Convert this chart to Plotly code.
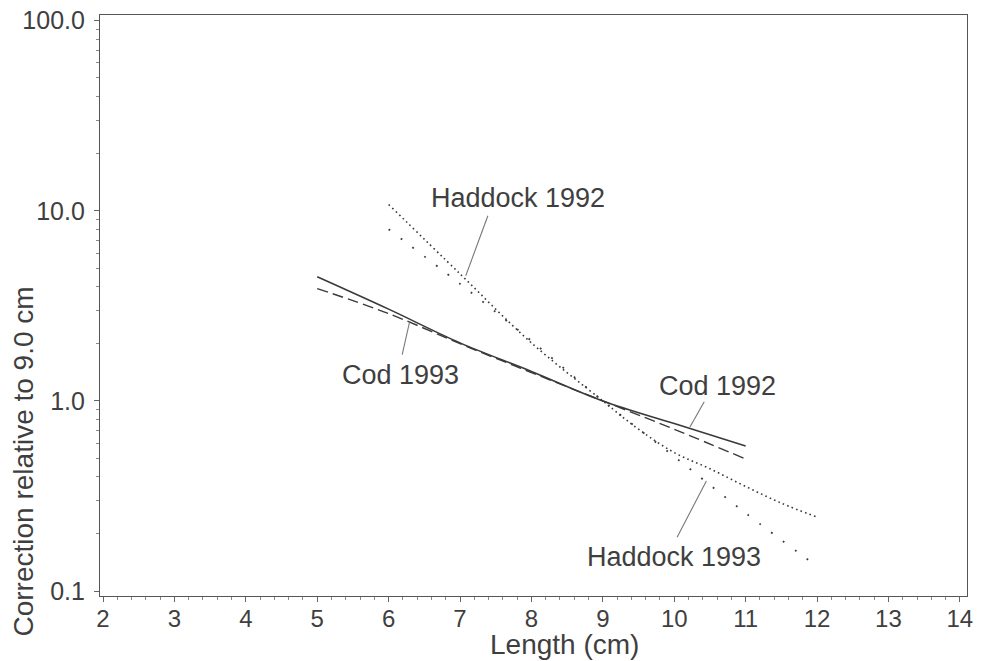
import math
import plotly.graph_objects as go

# ---- data ----
cod92_len = [5, 6, 7, 8, 9, 10, 11]
cod92_val = [4.5, 3.04, 2.02, 1.43, 1.0, 0.76, 0.58]

cod93_len = [5, 6, 7, 8, 9, 10, 11]
cod93_val = [3.9, 2.88, 2.0, 1.41, 1.0, 0.71, 0.495]

had92_len = [6, 7, 8, 9, 9.5, 10, 10.5, 11, 11.5, 12]
had92_val = [10.8, 4.66, 2.02, 1.0, 0.71, 0.535, 0.44, 0.355, 0.29, 0.245]

had93_len = [6, 7, 8, 9, 10, 11, 12]
had93_val = [8.0, 4.13, 2.07, 1.0, 0.51, 0.257, 0.135]

x_ticks = list(range(2, 15))
y_ticks = [0.1, 1, 10, 100]
y_ticktext = ["0.1", "1.0", "10.0", "100.0"]

# labels: text, text position, leader line (from, to)
label_text = ["Haddock 1992", "Cod 1993", "Cod 1992", "Haddock 1993"]
label_x = [7.81, 6.16, 10.61, 10.0]
label_y = [11.7, 1.37, 1.20, 0.151]
leader_x0 = [7.39, 6.19, 10.42, 10.04]
leader_y0 = [9.42, 1.75, 0.99, 0.192]
leader_x1 = [7.08, 6.29, 10.22, 10.45]
leader_y1 = [4.55, 2.57, 0.73, 0.379]

LINE = "#3a3a3a"
TEXT = "#3f3f3f"
FONT = "Liberation Sans, Arial, Helvetica, sans-serif"

# the page body has an 8px margin, so the figure is offset to compensate
W, H = 974, 653
L, R, T, B = 92, 15, 7, 65

fig = go.Figure()

fig.add_trace(go.Scatter(x=cod92_len, y=cod92_val, mode="lines", line_shape="spline",
                         line=dict(color=LINE, width=1.6), name="Cod 1992"))
fig.add_trace(go.Scatter(x=cod93_len, y=cod93_val, mode="lines", line_shape="spline",
                         line=dict(color=LINE, width=1.4, dash="11px,5px"), name="Cod 1993"))
fig.add_trace(go.Scatter(x=had92_len, y=had92_val, mode="lines", line_shape="spline",
                         line=dict(color=LINE, width=1.6, dash="1.6px,3.2px"), name="Haddock 1992"))
fig.add_trace(go.Scatter(x=had93_len, y=had93_val, mode="lines", line_shape="spline",
                         line=dict(color=LINE, width=1.8, dash="1.8px,13px"), name="Haddock 1993"))

# leader lines and labels
for i in range(len(label_text)):
    fig.add_trace(go.Scatter(x=[leader_x0[i], leader_x1[i]], y=[leader_y0[i], leader_y1[i]],
                             mode="lines", line=dict(color="#777777", width=1.1),
                             hoverinfo="skip", showlegend=False))
    fig.add_annotation(x=label_x[i], y=math.log10(label_y[i]),
                       xref="x", yref="y", text=label_text[i], showarrow=False,
                       font=dict(family=FONT, size=27, color=TEXT),
                       xanchor="center", yanchor="middle")

# axis titles positioned as in the reference
fig.add_annotation(x=0.536, y=-0.083, xref="paper", yref="paper", text="Length (cm)",
                   showarrow=False, xanchor="center", yanchor="middle",
                   font=dict(family=FONT, size=28, color=TEXT))
fig.add_annotation(text="Correction relative to 9.0 cm", textangle=-90, showarrow=False,
                   xref="paper", yref="paper", x=-0.088, y=0.231,
                   xanchor="center", yanchor="middle",
                   font=dict(family=FONT, size=28, color=TEXT))

fig.update_layout(
    width=W, height=H,
    margin=dict(l=L, r=R, t=T, b=B, autoexpand=False),
    paper_bgcolor="white", plot_bgcolor="white",
    showlegend=False,
    font=dict(family=FONT, color=TEXT),
)
fig.update_xaxes(
    range=[1.958, 14.1], tickvals=x_ticks, ticks="outside", ticklen=5, tickwidth=1,
    tickcolor="#666", showline=True, linecolor="#555", linewidth=1.2, mirror=True,
    showgrid=False, zeroline=False, automargin=False, ticklabeloverflow="allow",
    ticklabelstandoff=-4,
    tickfont=dict(family=FONT, size=24, color=TEXT),
    minor=dict(ticks="outside", ticklen=3, dtick=0.2, tickcolor="#888", showgrid=False),
)
fig.update_yaxes(
    type="log", range=[-1.026, 2.03], tickvals=y_ticks, ticktext=y_ticktext,
    ticks="outside", ticklen=5, tickwidth=1, tickcolor="#666",
    showline=True, linecolor="#555", linewidth=1.2, mirror=True,
    showgrid=False, zeroline=False, ticklabelstandoff=4, automargin=False,
    ticklabeloverflow="allow",
    tickfont=dict(family=FONT, size=25, color=TEXT),
    minor=dict(ticks="outside", ticklen=3, dtick="D1", tickcolor="#888", showgrid=False),
)

fig.write_html("out.html")
